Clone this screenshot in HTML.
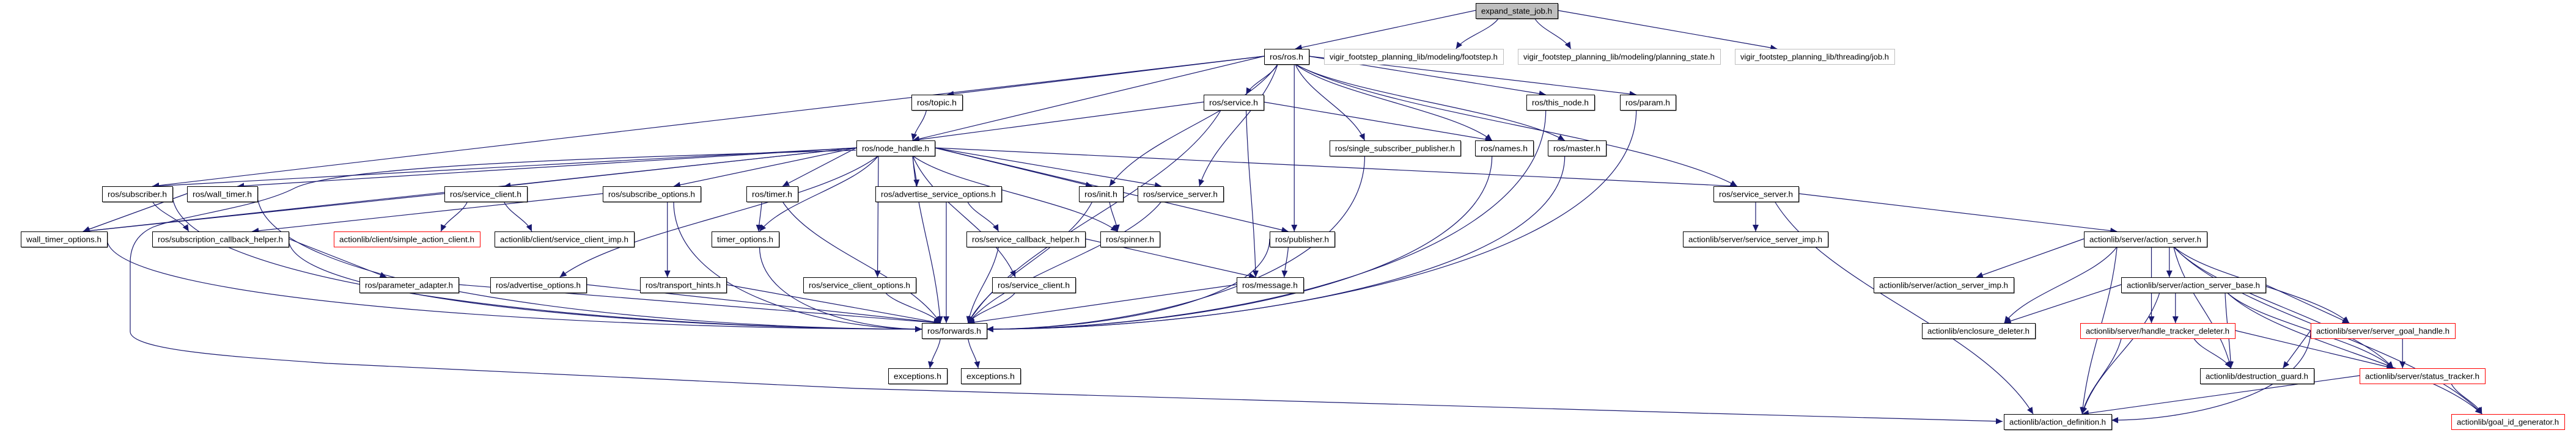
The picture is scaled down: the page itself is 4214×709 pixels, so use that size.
<!DOCTYPE html>
<html><head><meta charset="utf-8"><style>
html,body{margin:0;padding:0;background:#fff;width:4214px;height:709px;overflow:hidden}
svg{display:block}
text{font-family:"Liberation Sans",sans-serif;font-size:13px;fill:#000}
</style></head><body>
<svg id="g" width="4214" height="709" viewBox="0 0 4214 709" xmlns="http://www.w3.org/2000/svg">
<defs><marker id="ah" markerWidth="12" markerHeight="10" refX="11" refY="5" orient="auto" markerUnits="userSpaceOnUse"><path d="M0,0 L11,5 L0,10 z" fill="#191970"/></marker></defs>
<g id="edges" fill="none" stroke="#191970" stroke-width="1.2"></g>
<path d="M1400,246 C1000,258 560,270 482,308 C420,340 300,352 250,372 C228,382 213,400 213,430 L213,543 C213,575 400,585 536,595 L1400,636 L2800,677 L3276,690" fill="none" stroke="#191970" stroke-width="1.2" marker-end="url(#ah)"/>
<g id="nodes"></g>
</svg>
<script>
var R=[5,80,155,230,305,379,454,529,603,678];
var N={
exp:[2414,2548,0,"expand_state_job.h","g"],
ros:[2068,2141,1,"ros/ros.h"],
foot:[2166,2459,1,"vigir_footstep_planning_lib/modeling/footstep.h","l"],
plan:[2483,2814,1,"vigir_footstep_planning_lib/modeling/planning_state.h","l"],
job:[2838,3099,1,"vigir_footstep_planning_lib/threading/job.h","l"],
topic:[1491,1574,2,"ros/topic.h"],
svc:[1969,2067,2,"ros/service.h"],
thisn:[2497,2608,2,"ros/this_node.h"],
param:[2650,2741,2,"ros/param.h"],
nh:[1401,1529,3,"ros/node_handle.h"],
ssp:[2175,2389,3,"ros/single_subscriber_publisher.h"],
names:[2413,2508,3,"ros/names.h"],
master:[2532,2627,3,"ros/master.h"],
sub:[167,282,4,"ros/subscriber.h"],
wt:[306,421,4,"ros/wall_timer.h"],
sc1:[727,862,4,"ros/service_client.h"],
so:[986,1146,4,"ros/subscribe_options.h"],
timer:[1221,1305,4,"ros/timer.h"],
aso:[1432,1638,4,"ros/advertise_service_options.h"],
init:[1765,1837,4,"ros/init.h"],
ss1:[1861,2001,4,"ros/service_server.h"],
ss2:[2803,2942,4,"ros/service_server.h"],
wto:[34,175,5,"wall_timer_options.h"],
sch:[249,472,5,"ros/subscription_callback_helper.h"],
sac:[546,785,5,"actionlib/client/simple_action_client.h","r"],
sci:[809,1037,5,"actionlib/client/service_client_imp.h"],
to:[1164,1274,5,"timer_options.h"],
svch:[1581,1775,5,"ros/service_callback_helper.h"],
spin:[1800,1897,5,"ros/spinner.h"],
pub:[2077,2183,5,"ros/publisher.h"],
ssi:[2753,2990,5,"actionlib/server/service_server_imp.h"],
as:[3409,3610,5,"actionlib/server/action_server.h"],
pa:[588,750,6,"ros/parameter_adapter.h"],
ao:[802,959,6,"ros/advertise_options.h"],
th:[1047,1188,6,"ros/transport_hints.h"],
sco:[1314,1498,6,"ros/service_client_options.h"],
sc2:[1623,1759,6,"ros/service_client.h"],
msg:[2023,2132,6,"ros/message.h"],
asi:[3065,3294,6,"actionlib/server/action_server_imp.h"],
asb:[3470,3706,6,"actionlib/server/action_server_base.h"],
fw:[1508,1614,7,"ros/forwards.h"],
ed:[3144,3329,7,"actionlib/enclosure_deleter.h"],
htd:[3403,3656,7,"actionlib/server/handle_tracker_deleter.h","r"],
sgh:[3780,4016,7,"actionlib/server/server_goal_handle.h","r"],
ex1:[1453,1549,8,"exceptions.h"],
ex2:[1572,1669,8,"exceptions.h"],
dg:[3599,3785,8,"actionlib/destruction_guard.h"],
st:[3860,4065,8,"actionlib/server/status_tracker.h","r"],
ad:[3278,3454,9,"actionlib/action_definition.h"],
gid:[4010,4195,9,"actionlib/goal_id_generator.h","r"]
};
var E="exp ros,exp foot,exp plan,exp job,ros topic,ros sub,ros nh,ros svc,ros init,ros ss1,ros pub,ros ssp,ros names,ros thisn,ros master,ros param,ros ss2,topic nh,svc nh,svc names,svc msg,svc fw,thisn fw,param fw,names fw,master fw,ssp fw,nh sub,nh wt,nh wto,nh sc1,nh so,nh timer,nh to,nh sco,nh aso,nh init,nh ss1,nh spin,nh pub,nh sc2,nh fw,nh ss2,nh ao,sub fw,sub sch,wt wto,wt fw,sc1 sac,sc1 sci,sc1 wto,so sch,so th,so fw,timer to,timer fw,wto fw,sch pa,sch fw,pa fw,ao fw,th fw,to fw,sco fw,aso svch,aso fw,init spin,init fw,ss1 fw,svch msg,svch fw,sc2 fw,pub msg,pub fw,msg fw,fw ex1,fw ex2,ss2 ssi,ss2 as,ss2 ad,as asi,as asb,as ed,as htd,as sgh,as dg,as st,as gid,as ad,asb ed,asb htd,asb sgh,asb dg,asb st,asb gid,asb ad,htd dg,htd st,htd ad,sgh dg,sgh st,sgh ad,st ad,st gid".split(",");
var ns="http://www.w3.org/2000/svg",gn=document.getElementById("nodes"),ge=document.getElementById("edges");
function el(t,a,p){var e=document.createElementNS(ns,t);for(var k in a)e.setAttribute(k,a[k]);p.appendChild(e);return e;}
for(var k in N){var n=N[k],y=R[n[2]],w=n[1]-n[0];
var st=n[4]=="g"?"#000":n[4]=="l"?"#bfbfbf":n[4]=="r"?"#ff0000":"#000";
if(!n[4]||n[4]=="g")el("rect",{x:n[0]+1.5,y:y+1.5,width:w,height:25,fill:"#333"},gn);
el("rect",{x:n[0]+.5,y:y+.5,width:w,height:25,fill:n[4]=="g"?"#bfbfbf":"#fff",stroke:st,"stroke-width":1},gn);
var t=el("text",{x:n[0]+w/2,y:y+17.5,"text-anchor":"middle",textLength:Math.max(10,w-18),lengthAdjust:"spacingAndGlyphs"},gn);t.textContent=n[3];}
function cl(v,a,b){return Math.max(a,Math.min(b,v));}
E.forEach(function(s){var p=s.split(" "),a=N[p[0]],b=N[p[1]];if(!a||!b)return;
var ay=R[a[2]],by=R[b[2]],acx=(a[0]+a[1])/2,bcx=(b[0]+b[1])/2;
var sx,sy,tx,ty,d,dy=by-(ay+25),dx=bcx-acx,dir=dx<0?-1:1;
var srcSide=Math.abs(dx)>4*Math.max(dy,20), tgtSide=(p[1]=="fw"||p[1]=="ad")&&Math.abs(dx)>2*Math.max(dy,20)&&dy>60;
if(srcSide){sx=dx<0?a[0]:a[1];sy=ay+12;}else{sx=(acx+cl(bcx,a[0]+8,a[1]-8))/2;sy=ay+25;}
if(tgtSide){tx=dx<0?b[1]:b[0];ty=by+10;
d="M"+sx+","+sy+" C"+sx+","+(sy+(ty-sy)*0.7)+" "+(tx-dir*Math.abs(tx-sx)*0.4)+","+ty+" "+tx+","+ty;}
else{tx=(bcx+cl(acx,b[0]+8,b[1]-8))/2;ty=by;
if(srcSide)d="M"+sx+","+sy+" L"+tx+","+ty;
else{var h=ty-sy;d="M"+sx+","+sy+" C"+(sx+(tx-sx)*0.2)+","+(sy+h*0.4)+" "+(tx-(tx-sx)*0.2)+","+(ty-h*0.4)+" "+tx+","+ty;}}
el("path",{d:d,"marker-end":"url(#ah)"},ge);});
</script>
</body></html>
